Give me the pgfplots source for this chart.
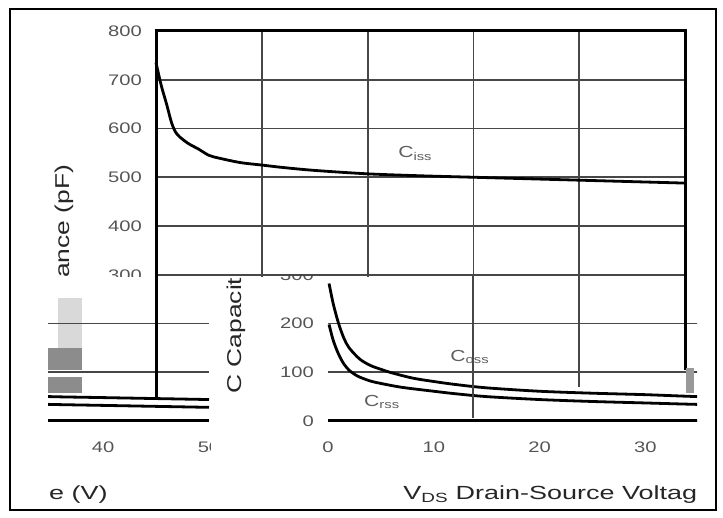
\documentclass[border=0pt]{standalone}
\usepackage{fontspec}
\setmainfont{Liberation Sans}[FakeStretch=1.32]
\newfontfamily\widefont{Liberation Sans}[FakeStretch=1.42]
\usepackage{pgfplots}
\pgfplotsset{compat=1.18}
\usepackage{pgfplotstable}

\definecolor{tickgray}{HTML}{555555}
\definecolor{gridgray}{HTML}{474747}
\definecolor{labgray}{HTML}{5E5E5E}

% capacitance (pF) against V_DS (V)
\pgfplotstableread{
v c
0 735
0.5 688
1 650
1.5 610
2 588
3 570
4 558
5 545
6 539
8 530
10 525
12 520
15 514
20 507
25 503
30 500
35 497
40 494
45 491
50 488
}\ciss
\pgfplotstableread{
v c
0.1 282
0.5 240
1 200
1.5 170
2 150
3 127
4 114
5 106
6 99
8 88
10 81
12 75
15 68
20 61
25 57
30 54
35 50
40 48
45 46
50 44
}\coss
\pgfplotstableread{
v c
0.1 198
0.5 165
1 137
1.5 117
2 104
2.5 96
3 90
4 82
5 77
7 69
10 61
12 56
15 50
20 44
25 40
30 37
35 34
40 32
45 30
50 28
}\crss

\pgfplotsset{
  capbase/.style={
    scale only axis, width=529pt, height=390pt, anchor=south west,
    xmin=0, xmax=50, ymin=0, ymax=800,
    xtick={0,10,...,50}, ytick={0,100,...,800},
    major tick length=0pt,
    /pgf/number format/assume math mode=true,
    tick label style={font=\fontsize{15.3}{16}\selectfont, text=tickgray, inner sep=0pt},
    xticklabel style={anchor=center, yshift=-26pt},
    yticklabel style={anchor=east, xshift=-14pt},
    grid style={gridgray, line width=1.8pt},
    clip=false,
  },
  boxed/.style={capbase, xmajorgrids, ymajorgrids, axis line style={line width=3pt}},
  cut/.style={capbase, ymajorgrids, axis line style={draw=none},
    extra y ticks={0}, extra y tick labels={},
    extra y tick style={grid style={black, line width=3pt}}},
  cap/.style={black, line width=2.8pt, smooth},
}

\newcommand{\capcontent}{%
  \addplot[cap] table[x=v, y=c] {\ciss};
  \addplot[cap] table[x=v, y=c] {\coss};
  \addplot[cap] table[x=v, y=c] {\crss};
  \node[rotate=90, font=\fontsize{20}{22}\selectfont, text=black!85] at (axis cs:-8.7,291) {C Capacitance (pF)};
  \node[anchor=west, font=\widefont\fontsize{19}{21}\selectfont, text=black!85] at (axis cs:6.8,-150) {V\textsubscript{DS} Drain-Source Voltage (V)};
  \node[font=\fontsize{16}{18}\selectfont, text=labgray] at (axis cs:24.5,549) {C\textsubscript{iss}};
  \node[font=\fontsize{16}{18}\selectfont, text=labgray] at (axis cs:13.4,131) {C\textsubscript{oss}};
  \node[font=\fontsize{16}{18}\selectfont, text=labgray] at (axis cs:5.1,39) {C\textsubscript{rss}};
}

\begin{document}
\begin{tikzpicture}[x=1pt, y=1pt]
\path[use as bounding box] (0,0) rectangle (723,518);

% upper part of the chart
\begin{scope}
\clip (0,241.5) rectangle (723,518);
\begin{axis}[boxed, at={(156pt,97pt)}]
\capcontent
\end{axis}
\end{scope}

% lower part, shifted to the right
\begin{scope}
\clip (210,13) rectangle (697,241.5);
\begin{axis}[cut, at={(328pt,97pt)}]
\capcontent
\end{axis}
\end{scope}

% lower part, left strip
\begin{scope}
\clip (48,13) rectangle (210,241.5);
\fill[black!15] (58,168) rectangle (82,220);
\fill[black!45] (48,148) rectangle (82,170);
\fill[black!45] (48,125) rectangle (82,141);
\begin{axis}[cut, at={(-320pt,97pt)}]
\capcontent
\end{axis}
\end{scope}

% pieces of the upper grid that run on
\draw[black, line width=3pt] (156,241.5) -- (156,121);
\draw[gridgray, line width=1.8pt] (473,241.5) -- (473,100);
\draw[gridgray, line width=1.8pt] (579,241.5) -- (579,131);
\draw[black, line width=3pt] (685,241.5) -- (685,148);
\fill[black!40] (686,150) rectangle (694,125);

% outer frame
\draw[line width=2.5pt] (10,8) rectangle (716,509);
\end{tikzpicture}
\end{document}
